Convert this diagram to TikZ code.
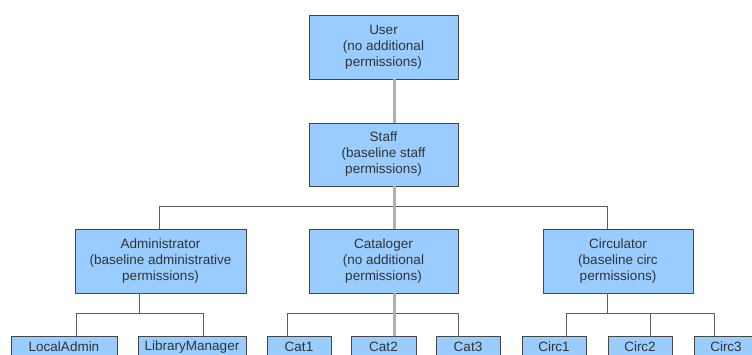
\documentclass[tikz,border=0pt]{standalone}
\usepackage{fontspec}
\setmainfont{Liberation Sans}
\usepackage{tikz}

\definecolor{boxblue}{RGB}{153,204,255}
\definecolor{boxline}{RGB}{70,70,70}
\definecolor{linkgray}{RGB}{95,95,95}
\definecolor{stemgray}{RGB}{175,175,175}

\begin{document}
\begin{tikzpicture}[x=1pt,y=-1pt,
  role/.style={draw=boxline, line width=0.9pt, fill=boxblue, text=black!80,
    align=center, inner sep=0pt, minimum height=64pt,
    font=\fontsize{13.5}{16}\selectfont},
  leaf/.style={role, minimum height=22pt},
  link/.style={draw=linkgray, line width=0.9pt},
  stem/.style={draw=stemgray, line width=3pt}]
\clip (0,0) rectangle (752,354);
\fill[white] (0,0) rectangle (752,354);

\node[role, minimum width=149pt] (user) at (383.5,47) {User\\(no additional\\permissions)};
\node[role, minimum width=149pt, minimum height=63pt] (staff) at (383.5,154.5) {Staff\\(baseline staff\\permissions)};
\node[role, minimum width=171pt] (adm) at (160.5,261) {Administrator\\(baseline administrative\\permissions)};
\node[role, minimum width=149pt] (catl) at (383.5,261) {Cataloger\\(no additional\\permissions)};
\node[role, minimum width=150pt] (circ) at (618,261) {Circulator\\(baseline circ\\permissions)};

\node[leaf, minimum width=106pt] (ladm) at (64,347) {LocalAdmin};
\node[leaf, minimum width=108pt] (lmgr) at (192,347) {LibraryManager};
\node[leaf, minimum width=64pt] (cat1) at (299,347) {Cat1};
\node[leaf, minimum width=65pt] (cat2) at (383.5,347) {Cat2};
\node[leaf, minimum width=64pt] (cat3) at (468,347) {Cat3};
\node[leaf, minimum width=64pt] (circ1) at (554,347) {Circ1};
\node[leaf, minimum width=64pt] (circ2) at (640,347) {Circ2};
\node[leaf, minimum width=64pt] (circ3) at (726,347) {Circ3};

\draw[stem] ([xshift=10.5pt]user.south) -- ([xshift=10.5pt]staff.north);
\draw[link] ([xshift=-1.5pt]adm.north) |- ([yshift=22pt]catl.north) -| ([xshift=-11pt]circ.north);
\draw[stem] ([xshift=10.5pt]staff.south) -- ([xshift=10.5pt]catl.north);

\draw[link] ([xshift=-21.5pt]adm.south) -- ++(0,-21pt);
\draw[link] ([xshift=12pt]ladm.north) |- ([yshift=22pt,xshift=11pt]lmgr.north) -- ([xshift=11pt]lmgr.north);

\draw[link] ([xshift=-12pt]cat1.north) |- ([yshift=22pt,xshift=-10pt]cat3.north) -- ([xshift=-10pt]cat3.north);
\draw[stem] ([xshift=10.5pt]catl.south) -- ([xshift=10.5pt]cat2.north);

\draw[link] ([xshift=-11pt]circ.south) -- ++(0,-21pt);
\draw[link] ([xshift=12pt]circ1.north) |- ([yshift=22pt,xshift=-12pt]circ3.north) -- ([xshift=-12pt]circ3.north);
\draw[link] ([xshift=10pt]circ2.north) -- ++(0,22pt);
\end{tikzpicture}
\end{document}
